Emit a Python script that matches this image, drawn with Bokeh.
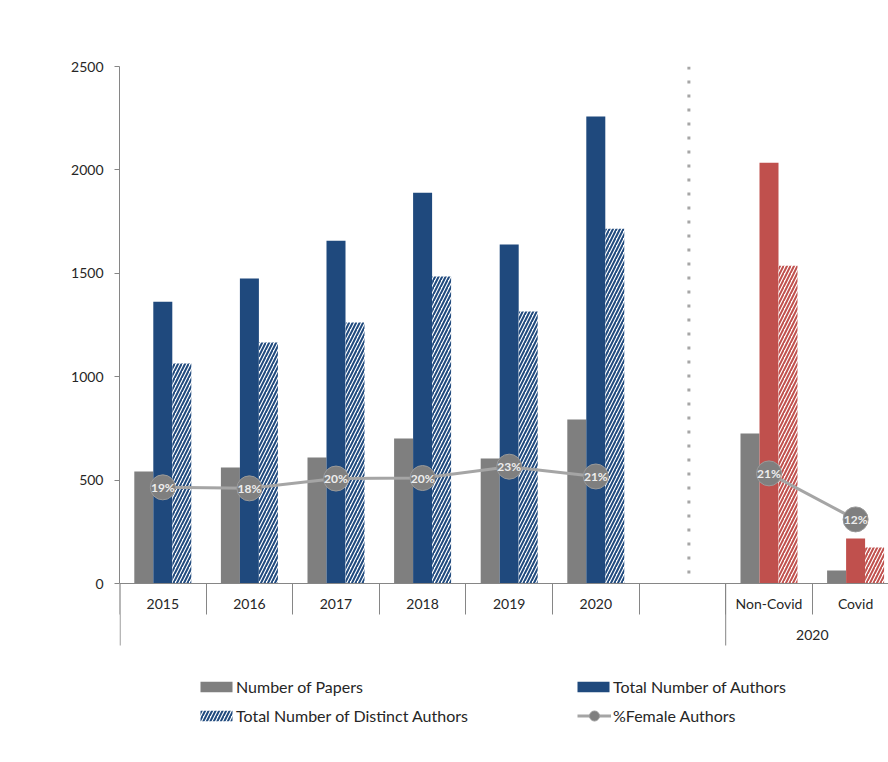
from bokeh.plotting import figure
from bokeh.models import Range1d, LinearAxis, FixedTicker, Legend, LegendItem
from bokeh.core.properties import value
from bokeh.embed import file_html
from bokeh.resources import INLINE

# ---------------- data ----------------
years = ["2015", "2016", "2017", "2018", "2019", "2020"]
papers = [541, 561, 609, 701, 604, 793]
authors = [1363, 1475, 1658, 1890, 1639, 2258]
distinct_authors = [1064, 1165, 1262, 1484, 1315, 1716]
female_pct = [18.6, 18.4, 20.3, 20.4, 22.6, 20.7]

split_labels = ["Non-Covid", "Covid"]
split_group = "2020"
split_papers = [725, 63]
split_authors = [2035, 218]
split_distinct = [1537, 174]
split_female_pct = [21.3, 12.4]

y_ticks = [0, 500, 1000, 1500, 2000, 2500]

# ---------------- style / layout ----------------
GRAY = "#7F7F7F"
BLUE = "#1F497D"
RED = "#C0504D"
LINE_GRAY = "#A5A5A5"
AXIS_GRAY = "#868686"
TEXT = "#262626"
FONT = "Lato"

W, H = 888, 760
LEFT, TOP, BOTTOM = 119, 66, 10
frame_w = W - LEFT
frame_h = H - TOP - BOTTOM
CAT_PX = 86.6
PX_PER_UNIT = 517 / 2500.0
Y_MAX = 2500
y_start = Y_MAX - frame_h / PX_PER_UNIT
PCT_SCALE = 25.0  # 100 % <-> 2500 on the main axis


def px(v):
    return v / PX_PER_UNIT


cat_labels = years + [""] + split_labels
x_years = list(range(len(years)))
gap_x = len(years)
x_split = [gap_x + 1 + i for i in range(len(split_labels))]
off = 19.0 / CAT_PX
bw = 19.0 / CAT_PX

p = figure(width=W, height=H, output_backend="svg", toolbar_location=None,
           x_axis_location=None, y_axis_location=None,
           x_range=Range1d(-0.5, -0.5 + frame_w / CAT_PX),
           y_range=Range1d(y_start, Y_MAX),
           min_border_left=LEFT, min_border_right=0,
           min_border_top=TOP, min_border_bottom=BOTTOM)
p.outline_line_color = None
p.xgrid.visible = False
p.ygrid.visible = False
p.background_fill_color = "white"
p.border_fill_color = "white"
p.extra_y_ranges = {"pct": Range1d(y_start / PCT_SCALE, Y_MAX / PCT_SCALE)}

# y axis
yax = LinearAxis(ticker=FixedTicker(ticks=y_ticks), bounds=(0, Y_MAX),
                 major_tick_out=5, major_tick_in=0, minor_tick_out=0, minor_tick_in=0,
                 axis_line_color=AXIS_GRAY, major_tick_line_color=AXIS_GRAY,
                 major_label_text_font=FONT, major_label_text_font_size="14px",
                 major_label_text_color=TEXT, major_label_standoff=11)
p.add_layout(yax, "left")

# x axis (categories)
xax = LinearAxis(fixed_location=0,
                 ticker=FixedTicker(ticks=list(range(len(cat_labels))),
                                    minor_ticks=[i - 0.5 for i in range(len(cat_labels) + 1)]),
                 major_label_overrides={i: lab for i, lab in enumerate(cat_labels)},
                 major_tick_out=0, major_tick_in=0, minor_tick_out=31, minor_tick_in=0,
                 axis_line_color=AXIS_GRAY, minor_tick_line_color=AXIS_GRAY,
                 major_label_text_font=FONT, major_label_text_font_size="14px",
                 major_label_text_color=TEXT, major_label_standoff=-20)
p.add_layout(xax, "below")

# long separators for the grouped "2020" level + group label
sep_x = [-0.5 + 0.6 / CAT_PX, gap_x + 0.5]
p.segment(x0=sep_x, y0=[0, 0], x1=sep_x, y1=[-px(62)] * 2,
          line_color=AXIS_GRAY, line_width=1)
p.text(x=[(x_split[0] + x_split[-1]) / 2.0], y=[-px(51)], text=[split_group],
       text_align="center", text_baseline="middle", text_font=value(FONT),
       text_font_size="14px", text_color=TEXT)

# dotted divider
div_x = gap_x + 6.5 / CAT_PX
p.segment(x0=[div_x], y0=[Y_MAX], x1=[div_x], y1=[0], line_color="#A6A6A6",
          line_width=3, line_dash="3 11")

# bars: years
r_pap = p.vbar(x=[x - off for x in x_years], top=papers, width=bw,
               fill_color=GRAY, line_color=None)
r_aut = p.vbar(x=x_years, top=authors, width=bw, fill_color=BLUE, line_color=None)
r_dis = p.vbar(x=[x + off for x in x_years], top=distinct_authors, width=bw,
               fill_color="white", line_color=None, hatch_pattern="/",
               hatch_color=BLUE, hatch_scale=7, hatch_weight=2)
# bars: 2020 split
p.vbar(x=[x - off for x in x_split], top=split_papers, width=bw,
       fill_color=GRAY, line_color=None)
p.vbar(x=x_split, top=split_authors, width=bw, fill_color=RED, line_color=None)
p.vbar(x=[x + off for x in x_split], top=split_distinct, width=bw,
       fill_color="white", line_color=None, hatch_pattern="/",
       hatch_color=RED, hatch_scale=7, hatch_weight=2)

# female line
r_line = p.line(x_years, female_pct, y_range_name="pct", line_color=LINE_GRAY, line_width=3)
p.line(x_split, split_female_pct, y_range_name="pct", line_color=LINE_GRAY, line_width=3)
r_dot = p.scatter(x_years + x_split, female_pct + split_female_pct, y_range_name="pct",
                  size=25, fill_color=GRAY, line_color="#9A9A9A", line_width=1)
p.text(x=x_years + x_split, y=female_pct + split_female_pct, y_range_name="pct",
       text=[f"{round(v)}%" for v in female_pct + split_female_pct],
       text_align="center", text_baseline="middle", text_font=value(FONT),
       text_font_style="bold", text_font_size="12px", text_color="#EDEDED")

# legends
common = dict(padding=0, margin=0, border_line_color=None, background_fill_alpha=0,
              label_text_font=FONT, label_text_font_size="16px",
              label_text_color=TEXT, label_height=20, spacing=9)
legA = Legend(items=[LegendItem(label="Number of Papers", renderers=[r_pap]),
                     LegendItem(label="Total Number of Distinct Authors", renderers=[r_dis])],
              location=(77, 25), orientation="vertical", glyph_width=40, glyph_height=13,
              label_standoff=0, **common)
legB = Legend(items=[LegendItem(label="Total Number of Authors", renderers=[r_aut])],
              location=(454, 54), glyph_width=40, glyph_height=13, label_standoff=0, **common)
legC = Legend(items=[LegendItem(label="%Female Authors", renderers=[r_line, r_dot])],
              location=(458, 22), glyph_width=34, glyph_height=25, label_standoff=2, **common)
for lg in (legA, legB, legC):
    p.add_layout(lg)

open("out.html", "w").write(file_html(p, INLINE))
